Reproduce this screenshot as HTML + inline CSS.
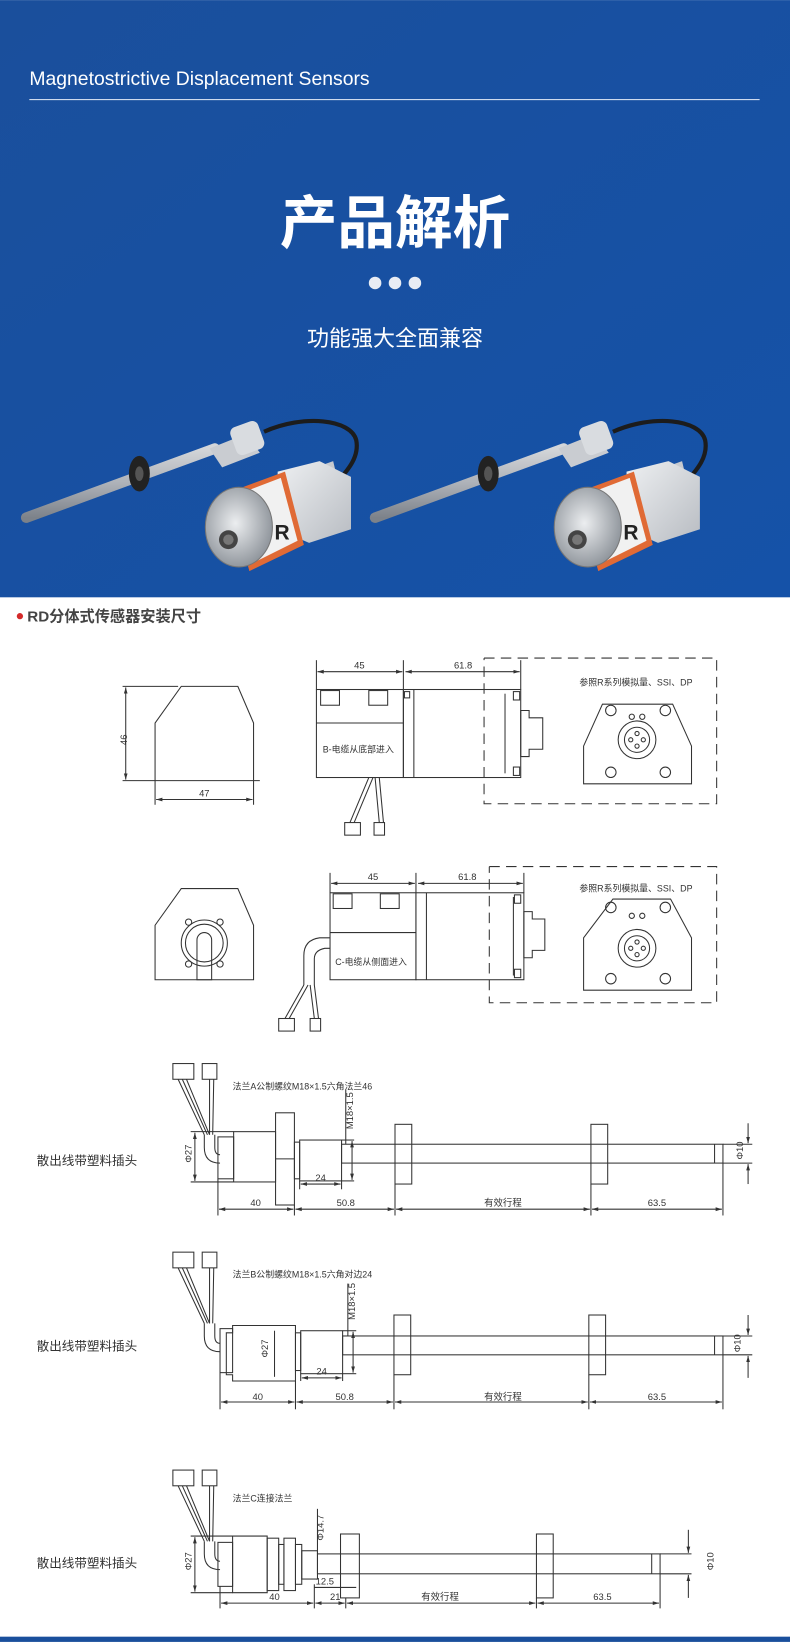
<!DOCTYPE html>
<html><head><meta charset="utf-8"><style>
html,body{margin:0;padding:0;background:#fff}
svg{display:block}
text{font-family:"Liberation Sans","Noto Sans CJK SC",sans-serif}
</style></head><body>
<svg width="790" height="1642" viewBox="0 0 754 1567" xmlns="http://www.w3.org/2000/svg">
<defs>
<marker id="a" viewBox="0 0 10 10" refX="10" refY="5" markerWidth="6" markerHeight="6" orient="auto-start-reverse"><path d="M0 2 L10 5 L0 8Z" fill="#333"/></marker>
<linearGradient id="bg" x1="0" y1="0" x2="1" y2="1"><stop offset="0" stop-color="#1a4f9c"/><stop offset="1" stop-color="#1552a8"/></linearGradient>
<linearGradient id="rod" x1="0" y1="0" x2="0" y2="1"><stop offset="0" stop-color="#f4f4f4"/><stop offset=".5" stop-color="#b9bcc2"/><stop offset="1" stop-color="#6d727a"/></linearGradient>
<radialGradient id="face" cx=".45" cy=".45" r=".6"><stop offset="0" stop-color="#eceef0"/><stop offset="1" stop-color="#8a9097"/></radialGradient>
<linearGradient id="blk" x1="0" y1="0" x2="1" y2="1"><stop offset="0" stop-color="#eef0f2"/><stop offset="1" stop-color="#b8bcc2"/></linearGradient>
<g id="prod">
 <line x1="25" y1="494" x2="205" y2="428" stroke="url(#rod)" stroke-width="10" stroke-linecap="round"/>
 <line x1="25" y1="494" x2="205" y2="428" stroke="#9aa0a8" stroke-width="10" stroke-linecap="round" opacity=".35"/>
 <ellipse cx="133" cy="452" rx="10" ry="17" fill="#222"/>
 <ellipse cx="133" cy="452" rx="4" ry="7" fill="#555"/>
 <path d="M200 428 L235 414 L248 432 L212 446Z" fill="#c9ccd1"/>
 <rect x="222" y="404" width="28" height="28" rx="6" fill="#d9dce0" transform="rotate(-20 236 418)"/>
 <path d="M252 412 C290 395 335 400 340 420 C344 440 325 455 318 465" stroke="#1c1c1c" stroke-width="4" fill="none"/>
 <path d="M290 450 L318 440 L325 470 L300 480Z" fill="#c7cacf"/>
 <path d="M265 450 L305 440 L335 455 L335 505 L295 518 L265 505Z" fill="url(#blk)"/>
 <path d="M218 470 L272 450 L290 520 L238 545Z" fill="#e06a35"/>
 <path d="M226 472 L268 456 L284 516 L244 536Z" fill="#f1f1f1"/>
 <text x="262" y="515" font-size="20" font-family="Liberation Serif,serif" font-weight="bold" fill="#222">R</text>
 <ellipse cx="228" cy="503" rx="32" ry="38" fill="url(#face)" stroke="#777" stroke-width="1"/>
 <circle cx="218" cy="515" r="9" fill="#444"/>
 <circle cx="218" cy="515" r="5" fill="#777"/>
</g>
</defs>
<rect x="0" y="0" width="754" height="570" fill="url(#bg)"/>
<text x="28" y="81" font-size="18.5" fill="#fff">Magnetostrictive Displacement Sensors</text>
<line x1="28" y1="95" x2="725" y2="95" stroke="#e8eef8" stroke-width="1"/>
<text x="377" y="232" font-size="55" font-weight="bold" fill="#fff" text-anchor="middle">产品解析</text>
<circle cx="358" cy="270" r="6" fill="#e8ecf4"/><circle cx="377" cy="270" r="6" fill="#e8ecf4"/><circle cx="396" cy="270" r="6" fill="#e8ecf4"/>
<text x="377" y="330" font-size="21" fill="#fff" text-anchor="middle">功能强大全面兼容</text>
<use href="#prod"/>
<use href="#prod" transform="translate(333,0)"/>

<circle cx="19" cy="588" r="3" fill="#d42a2a"/>
<text x="26" y="593" font-size="14.5" fill="#444" font-weight="bold">RD分体式传感器安装尺寸</text>

<g stroke="#333" stroke-width="1" fill="none">
<path d="M148 745 L148 690 L173 655 L227 655 L242 690 L242 745"/>
<line x1="117" y1="655" x2="170" y2="655"/><line x1="117" y1="745" x2="248" y2="745"/>
<line x1="120" y1="656" x2="120" y2="744" marker-start="url(#a)" marker-end="url(#a)"/>
<line x1="148" y1="745" x2="148" y2="768"/><line x1="242" y1="745" x2="242" y2="768"/>
<line x1="149" y1="763" x2="241" y2="763" marker-start="url(#a)" marker-end="url(#a)"/>
<rect x="302" y="658" width="83" height="84"/><line x1="302" y1="690" x2="385" y2="690"/>
<rect x="306" y="659" width="18" height="14"/><rect x="352" y="659" width="18" height="14"/>
<rect x="385" y="658" width="112" height="84"/><line x1="395" y1="658" x2="395" y2="742"/><line x1="482" y1="662" x2="482" y2="738"/>
<rect x="386" y="660" width="5" height="6"/><rect x="490" y="660" width="6" height="8"/><rect x="490" y="732" width="6" height="8"/>
<path d="M497 678 L505 678 L505 685 L518 685 L518 715 L505 715 L505 722 L497 722Z"/>
<line x1="302" y1="630" x2="302" y2="658"/><line x1="385" y1="630" x2="385" y2="658"/><line x1="497" y1="630" x2="497" y2="658"/>
<line x1="303" y1="641" x2="384" y2="641" marker-start="url(#a)" marker-end="url(#a)"/><line x1="387" y1="641" x2="496" y2="641" marker-start="url(#a)" marker-end="url(#a)"/>
<path d="M462 628 L684 628 L684 767 L462 767 L462 628" stroke-dasharray="10 6"/>
<path d="M575 672 L642 672 L660 712 L660 748 L557 748 L557 712Z"/>
<circle cx="608" cy="706" r="18"/><circle cx="608" cy="706" r="12"/>
<circle cx="583" cy="678" r="5"/><circle cx="635" cy="678" r="5"/><circle cx="583" cy="737" r="5"/><circle cx="635" cy="737" r="5"/>
<circle cx="603" cy="684" r="2.5"/><circle cx="613" cy="684" r="2.5"/>
<circle cx="608" cy="700" r="2"/><circle cx="602" cy="706" r="2"/><circle cx="614" cy="706" r="2"/><circle cx="608" cy="712" r="2"/>
<path d="M352 742 L334 785 M356 742 L338 785 M358 742 L362 785 M362 742 L366 785"/>
<rect x="329" y="785" width="15" height="12"/><rect x="357" y="785" width="10" height="12"/>

<path d="M148 935 L148 883 L173 848 L227 848 L242 883 L242 935Z"/>
<circle cx="195" cy="900" r="22"/><circle cx="195" cy="900" r="18"/>
<path d="M188 897 L188 935 L202 935 L202 897 A7 7 0 0 0 188 897"/>
<circle cx="180" cy="880" r="3"/><circle cx="210" cy="880" r="3"/><circle cx="180" cy="920" r="3"/><circle cx="210" cy="920" r="3"/>
<rect x="315" y="852" width="82" height="83"/><line x1="315" y1="890" x2="397" y2="890"/>
<rect x="318" y="853" width="18" height="14"/><rect x="363" y="853" width="18" height="14"/>
<rect x="397" y="852" width="103" height="83"/><line x1="407" y1="852" x2="407" y2="935"/><line x1="490" y1="856" x2="490" y2="931"/>
<rect x="491" y="854" width="6" height="8"/><rect x="491" y="925" width="6" height="8"/>
<path d="M500 870 L508 870 L508 877 L520 877 L520 907 L508 907 L508 914 L500 914Z"/>
<line x1="315" y1="833" x2="315" y2="852"/><line x1="397" y1="833" x2="397" y2="852"/><line x1="500" y1="833" x2="500" y2="852"/>
<line x1="316" y1="843" x2="396" y2="843" marker-start="url(#a)" marker-end="url(#a)"/><line x1="399" y1="843" x2="499" y2="843" marker-start="url(#a)" marker-end="url(#a)"/>
<path d="M467 827 L684 827 L684 957 L467 957 L467 827" stroke-dasharray="10 6"/>
<path d="M585 858 L640 858 L660 895 L660 945 L557 945 L557 895Z"/>
<circle cx="608" cy="905" r="18"/><circle cx="608" cy="905" r="12"/>
<circle cx="583" cy="866" r="5"/><circle cx="635" cy="866" r="5"/><circle cx="583" cy="934" r="5"/><circle cx="635" cy="934" r="5"/>
<circle cx="603" cy="874" r="2.5"/><circle cx="613" cy="874" r="2.5"/>
<circle cx="608" cy="899" r="2"/><circle cx="602" cy="905" r="2"/><circle cx="614" cy="905" r="2"/><circle cx="608" cy="911" r="2"/>
<path d="M315 895 L305 895 Q290 897 290 912 L290 940 M315 905 L310 905 Q300 907 300 915 L300 940"/>
<path d="M290 940 L272 972 M294 940 L276 972 M296 940 L300 972 M300 940 L304 972"/>
<rect x="266" y="972" width="15" height="12"/><rect x="296" y="972" width="10" height="12"/>

<g id="wires"><path d="M170 1030 L195 1083 M174 1030 L198 1083 M178 1030 L200 1083 M200 1030 L200 1083 M204 1030 L203 1083"/>
<rect x="165" y="1015" width="20" height="15"/><rect x="193" y="1015" width="14" height="15"/></g>
<path d="M195 1083 L195 1095 Q195 1110 210 1110 M205 1083 L205 1095 Q205 1102 210 1102"/>
<rect x="208" y="1085" width="15" height="40"/><rect x="223" y="1080" width="40" height="48"/>
<rect x="263" y="1062" width="18" height="88"/><line x1="263" y1="1106" x2="281" y2="1106"/>
<rect x="281" y="1090" width="5" height="35"/><rect x="286" y="1088" width="40" height="39"/>
<rect x="326" y="1092" width="364" height="18"/><line x1="682" y1="1092" x2="682" y2="1110"/>
<rect x="377" y="1073" width="16" height="57"/><rect x="564" y="1073" width="16" height="57"/>
<line x1="182" y1="1080" x2="223" y2="1080"/><line x1="182" y1="1128" x2="223" y2="1128"/><line x1="186" y1="1081" x2="186" y2="1127" marker-start="url(#a)" marker-end="url(#a)"/>
<line x1="208" y1="1125" x2="208" y2="1160"/><line x1="281" y1="1150" x2="281" y2="1160"/><line x1="377" y1="1130" x2="377" y2="1160"/><line x1="564" y1="1130" x2="564" y2="1160"/><line x1="690" y1="1110" x2="690" y2="1160"/>
<line x1="209" y1="1154" x2="280" y2="1154" marker-start="url(#a)" marker-end="url(#a)"/><line x1="282" y1="1154" x2="376" y2="1154" marker-start="url(#a)" marker-end="url(#a)"/><line x1="378" y1="1154" x2="563" y2="1154" marker-start="url(#a)" marker-end="url(#a)"/><line x1="565" y1="1154" x2="689" y2="1154" marker-start="url(#a)" marker-end="url(#a)"/>
<line x1="286" y1="1127" x2="286" y2="1135"/><line x1="326" y1="1127" x2="326" y2="1135"/><line x1="287" y1="1130" x2="325" y2="1130" marker-start="url(#a)" marker-end="url(#a)"/>
<line x1="330" y1="1040" x2="330" y2="1092"/><line x1="326" y1="1088" x2="338" y2="1088"/><line x1="326" y1="1127" x2="338" y2="1127"/><line x1="336" y1="1089" x2="336" y2="1126" marker-start="url(#a)" marker-end="url(#a)"/>
<line x1="690" y1="1092" x2="718" y2="1092"/><line x1="690" y1="1110" x2="718" y2="1110"/><line x1="714" y1="1072" x2="714" y2="1091" marker-end="url(#a)"/><line x1="714" y1="1130" x2="714" y2="1111" marker-end="url(#a)"/>

<use href="#wires" transform="translate(0,180)"/>
<path d="M195 1263 L195 1275 Q195 1290 210 1290 M205 1263 L205 1275 Q205 1282 210 1282"/>
<rect x="210" y="1268" width="12" height="42"/>
<path d="M222 1265 L282 1265 L282 1318 L222 1318 L222 1312 L216 1312 L216 1272 L222 1272Z"/>
<line x1="262" y1="1270" x2="262" y2="1314"/>
<rect x="282" y="1272" width="5" height="36"/><rect x="287" y="1270" width="40" height="41"/>
<rect x="327" y="1275" width="363" height="18"/><line x1="682" y1="1275" x2="682" y2="1293"/>
<rect x="376" y="1255" width="16" height="57"/><rect x="562" y="1255" width="16" height="57"/>
<line x1="210" y1="1310" x2="210" y2="1345"/><line x1="282" y1="1318" x2="282" y2="1345"/><line x1="376" y1="1312" x2="376" y2="1345"/><line x1="562" y1="1312" x2="562" y2="1345"/><line x1="690" y1="1293" x2="690" y2="1345"/>
<line x1="211" y1="1338" x2="281" y2="1338" marker-start="url(#a)" marker-end="url(#a)"/><line x1="283" y1="1338" x2="375" y2="1338" marker-start="url(#a)" marker-end="url(#a)"/><line x1="377" y1="1338" x2="561" y2="1338" marker-start="url(#a)" marker-end="url(#a)"/><line x1="563" y1="1338" x2="689" y2="1338" marker-start="url(#a)" marker-end="url(#a)"/>
<line x1="287" y1="1311" x2="287" y2="1318"/><line x1="327" y1="1311" x2="327" y2="1318"/><line x1="288" y1="1315" x2="326" y2="1315" marker-start="url(#a)" marker-end="url(#a)"/>
<line x1="332" y1="1225" x2="332" y2="1275"/><line x1="327" y1="1270" x2="340" y2="1270"/><line x1="327" y1="1311" x2="340" y2="1311"/><line x1="337" y1="1271" x2="337" y2="1310" marker-start="url(#a)" marker-end="url(#a)"/>
<line x1="690" y1="1275" x2="718" y2="1275"/><line x1="690" y1="1293" x2="718" y2="1293"/><line x1="714" y1="1255" x2="714" y2="1274" marker-end="url(#a)"/><line x1="714" y1="1315" x2="714" y2="1294" marker-end="url(#a)"/>

<use href="#wires" transform="translate(0,388)"/>
<path d="M195 1471 L195 1483 Q195 1498 210 1498 M205 1471 L205 1483 Q205 1490 210 1490"/>
<rect x="208" y="1472" width="14" height="42"/>
<path d="M222 1466 L255 1466 L255 1520 L222 1520Z"/>
<rect x="255" y="1468" width="11" height="50"/><rect x="266" y="1474" width="5" height="38"/><rect x="271" y="1468" width="11" height="50"/>
<rect x="282" y="1474" width="6" height="38"/><rect x="288" y="1480" width="15" height="27"/>
<rect x="303" y="1483" width="327" height="19"/><line x1="622" y1="1483" x2="622" y2="1502"/>
<rect x="325" y="1464" width="18" height="61"/><rect x="512" y="1464" width="16" height="61"/>
<line x1="182" y1="1466" x2="222" y2="1466"/><line x1="182" y1="1520" x2="222" y2="1520"/><line x1="186" y1="1467" x2="186" y2="1519" marker-start="url(#a)" marker-end="url(#a)"/>
<line x1="210" y1="1514" x2="210" y2="1535"/><line x1="300" y1="1512" x2="300" y2="1535"/><line x1="330" y1="1525" x2="330" y2="1535"/><line x1="512" y1="1525" x2="512" y2="1535"/><line x1="630" y1="1502" x2="630" y2="1535"/>
<line x1="211" y1="1530" x2="299" y2="1530" marker-start="url(#a)" marker-end="url(#a)"/><line x1="301" y1="1530" x2="329" y2="1530" marker-start="url(#a)" marker-end="url(#a)"/><line x1="331" y1="1530" x2="511" y2="1530" marker-start="url(#a)" marker-end="url(#a)"/><line x1="513" y1="1530" x2="629" y2="1530" marker-start="url(#a)" marker-end="url(#a)"/>
<line x1="300" y1="1515" x2="340" y2="1515"/>
<line x1="303" y1="1440" x2="303" y2="1483"/>
<line x1="630" y1="1483" x2="660" y2="1483"/><line x1="630" y1="1502" x2="660" y2="1502"/><line x1="657" y1="1460" x2="657" y2="1482" marker-end="url(#a)"/><line x1="657" y1="1525" x2="657" y2="1503" marker-end="url(#a)"/>
</g>

<g font-size="9" fill="#333">
<text x="117" y="710" transform="rotate(-90 117 706)" text-anchor="middle">46</text>
<text x="195" y="760" text-anchor="middle">47</text>
<text x="343" y="638" text-anchor="middle">45</text><text x="442" y="638" text-anchor="middle">61.8</text>
<text x="553" y="654" font-size="8.5">参照R系列模拟量、SSI、DP</text>
<text x="308" y="718" font-size="8.5">B-电缆从底部进入</text>
<text x="356" y="840" text-anchor="middle">45</text><text x="446" y="840" text-anchor="middle">61.8</text>
<text x="553" y="851" font-size="8.5">参照R系列模拟量、SSI、DP</text>
<text x="320" y="921" font-size="8.5">C-电缆从侧面进入</text>

<text x="222" y="1040" font-size="8.5">法兰A公制螺纹M18×1.5六角法兰46</text>
<text x="35" y="1112" font-size="12">散出线带塑料插头</text>
<text x="182" y="1108" transform="rotate(-90 179 1104)" text-anchor="middle">Φ27</text>
<text x="306" y="1127" text-anchor="middle">24</text>
<text x="334" y="1063" transform="rotate(-90 334 1060)" text-anchor="middle">M18×1.5</text>
<text x="244" y="1151" text-anchor="middle">40</text><text x="330" y="1151" text-anchor="middle">50.8</text>
<text x="480" y="1151" text-anchor="middle">有效行程</text><text x="627" y="1151" text-anchor="middle">63.5</text>
<text x="708" y="1105" transform="rotate(-90 705 1101)" text-anchor="middle">Φ10</text>

<text x="222" y="1219" font-size="8.5">法兰B公制螺纹M18×1.5六角对边24</text>
<text x="35" y="1289" font-size="12">散出线带塑料插头</text>
<text x="256" y="1293" transform="rotate(-90 253 1290)" text-anchor="middle">Φ27</text>
<text x="307" y="1312" text-anchor="middle">24</text>
<text x="336" y="1245" transform="rotate(-90 336 1242)" text-anchor="middle">M18×1.5</text>
<text x="246" y="1336" text-anchor="middle">40</text><text x="329" y="1336" text-anchor="middle">50.8</text>
<text x="480" y="1336" text-anchor="middle">有效行程</text><text x="627" y="1336" text-anchor="middle">63.5</text>
<text x="706" y="1289" transform="rotate(-90 703 1285)" text-anchor="middle">Φ10</text>

<text x="222" y="1433" font-size="8.5">法兰C连接法兰</text>
<text x="35" y="1496" font-size="12">散出线带塑料插头</text>
<text x="182" y="1497" transform="rotate(-90 179 1493)" text-anchor="middle">Φ27</text>
<text x="306" y="1461" transform="rotate(-90 306 1458)" text-anchor="middle">Φ14.7</text>
<text x="310" y="1512" text-anchor="middle">12.5</text>
<text x="262" y="1527" text-anchor="middle">40</text><text x="320" y="1527" text-anchor="middle">21</text>
<text x="420" y="1527" text-anchor="middle">有效行程</text><text x="575" y="1527" text-anchor="middle">63.5</text>
<text x="680" y="1497" transform="rotate(-90 677 1493)" text-anchor="middle">Φ10</text>
</g>
<rect x="0" y="1562" width="754" height="5" fill="#1a4f9c"/>
</svg>
</body></html>
